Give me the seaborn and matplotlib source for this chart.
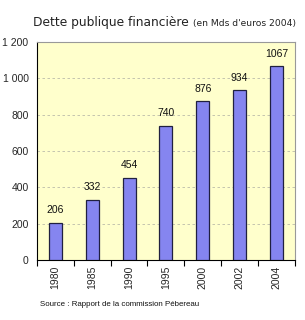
import matplotlib
matplotlib.use("Agg")
import matplotlib.pyplot as plt
import seaborn as sns
import pandas as pd

years = ["1980", "1985", "1990", "1995", "2000", "2002", "2004"]
values = [206, 332, 454, 740, 876, 934, 1067]
yticks = [0, 200, 400, 600, 800, 1000, 1200]
ytick_labels = ["0", "200", "400", "600", "800", "1 000", "1 200"]

df = pd.DataFrame({"year": years, "value": values})

sns.set_theme(style="white")
plt.rcParams["font.family"] = ["Liberation Sans", "DejaVu Sans"]

fig = plt.figure(figsize=(3.05, 3.2), dpi=100)
ax = fig.add_axes([0.121, 0.1875, 0.846, 0.681])
ax.set_facecolor("#FFFFCC")

sns.barplot(data=df, x="year", y="value", color="#8585F0", width=0.35,
            edgecolor="#202040", linewidth=0.9, saturation=1, ax=ax, zorder=3)

for i, v in enumerate(values):
    ax.text(i, v + 40, str(v), ha="center", va="bottom", fontsize=7.5, color="#111111")

ax.set_ylim(0, 1200)
ax.set_xlim(-0.5, len(years) - 0.5)
ax.set_yticks(yticks)
ax.set_yticklabels(ytick_labels, fontsize=7.5)
ax.set_xticks(range(len(years)))
ax.set_xticklabels(years, rotation=90, fontsize=7.5)
ax.set_xlabel("")
ax.set_ylabel("")
for y in yticks[1:-1]:
    ax.axhline(y, color="#BBBBAA", linestyle=(0, (3, 3)), linewidth=0.6, zorder=1)

for s in ["top", "right"]:
    ax.spines[s].set_color("#999999")
    ax.spines[s].set_linewidth(0.8)
for s in ["left", "bottom"]:
    ax.spines[s].set_color("#000000")
    ax.spines[s].set_linewidth(0.8)

ax.tick_params(axis="y", which="major", direction="out", length=4, width=0.8, color="black", pad=2)
ax.tick_params(axis="x", which="major", length=0, pad=4)
ax.set_xticks([i + 0.5 for i in range(-1, len(years))], minor=True)
ax.tick_params(axis="x", which="minor", direction="out", length=4, width=0.8, color="black", bottom=True)

t1 = fig.text(0.108, 0.93, "Dette publique financière", fontsize=8.8, ha="left", va="center",
              family=["DejaVu Sans"], color="#222222")
fig.canvas.draw()
bb = t1.get_window_extent(renderer=fig.canvas.get_renderer())
x2 = (bb.x1 + 4) / fig.bbox.width
fig.text(x2, 0.927, "(en Mds d'euros 2004)", fontsize=6.6, ha="left", va="center",
         family=["DejaVu Sans"], color="#222222")
fig.text(0.13, 0.048, "Source : Rapport de la commission Pébereau", fontsize=5.7, ha="left",
         va="center", color="#111111")

fig.savefig("out.png", dpi=100)
